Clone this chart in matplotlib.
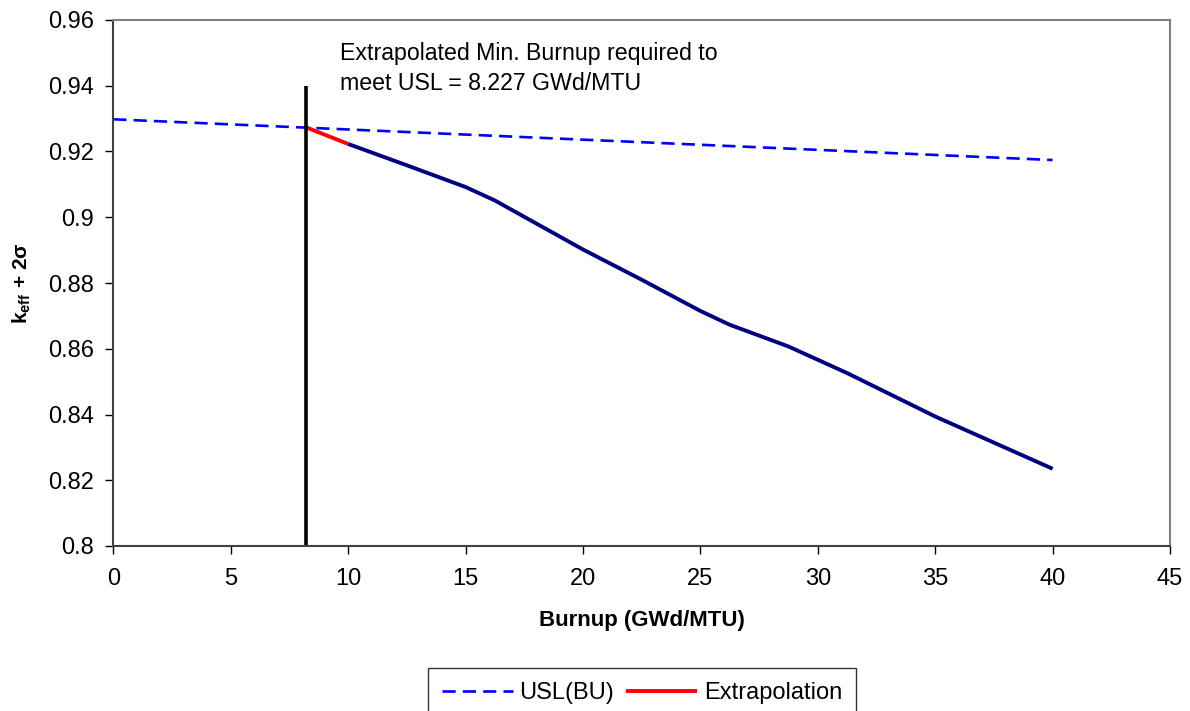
import matplotlib
matplotlib.use("Agg")
import matplotlib.pyplot as plt

plt.rcParams['font.family'] = ['Liberation Sans', 'DejaVu Sans']
plt.rcParams['mathtext.fontset'] = 'custom'
plt.rcParams['mathtext.rm'] = 'Liberation Sans'
plt.rcParams['mathtext.bf'] = 'Liberation Sans:bold'
plt.rcParams['mathtext.it'] = 'Liberation Sans:italic'

# ---- data ----
usl_bu = [0, 40]
usl_k = [0.9298, 0.9174]

keff_bu = [10, 12.5, 15, 16.25, 20, 22.5, 25, 26.25, 28.75, 31.25, 35, 40]
keff_k = [0.9223, 0.9158, 0.9092, 0.9051, 0.8902, 0.8810, 0.8715, 0.8673,
          0.8607, 0.8526, 0.8394, 0.8235]

extrap_bu = [8.227, 10]
extrap_k = [0.9273, 0.9223]

min_bu = 8.227
vline_k = [0.80, 0.94]

xticks = [0, 5, 10, 15, 20, 25, 30, 35, 40, 45]
yticks = [0.80, 0.82, 0.84, 0.86, 0.88, 0.90, 0.92, 0.94, 0.96]
ytick_labels = ['0.8', '0.82', '0.84', '0.86', '0.88', '0.9', '0.92', '0.94', '0.96']

annot = "Extrapolated Min. Burnup required to\nmeet USL = 8.227 GWd/MTU"

# ---- figure ----
fig = plt.figure(figsize=(11.9, 7.11), dpi=100)
ax = fig.add_axes([113.3/1190, 1-546/711, (1170-113.3)/1190, (546-20)/711])

ax.plot(usl_bu, usl_k, color='#0000FF', lw=1.9, dashes=(5.0, 2.7), label='USL(BU)')
ax.plot(keff_bu, keff_k, color='#000080', lw=2.8, solid_capstyle='butt')
ax.plot(extrap_bu, extrap_k, color='#FF0000', lw=2.8, label='Extrapolation', solid_capstyle='butt')
ax.plot([min_bu, min_bu], vline_k, color='black', lw=2.6, solid_capstyle='butt')

ax.set_xlim(0, 45)
ax.set_ylim(0.8, 0.96)
ax.set_xticks(xticks)
ax.set_xticklabels([str(t) for t in xticks])
ax.set_yticks(yticks)
ax.set_yticklabels(ytick_labels)

ax.tick_params(axis='both', direction='out', length=6, width=1, color='black',
               labelsize=17, labelcolor='black')
ax.tick_params(axis='y', pad=8)
ax.tick_params(axis='x', pad=10)

for s in ['left', 'bottom']:
    ax.spines[s].set_color('#404040')
    ax.spines[s].set_linewidth(1.5)
for s in ['top', 'right']:
    ax.spines[s].set_color('#808080')
    ax.spines[s].set_linewidth(1.5)

ax.set_xlabel('Burnup (GWd/MTU)', fontsize=16, fontweight='bold')
ax.xaxis.set_label_coords(0.5, -0.121)
ax.set_ylabel(r'$\mathbf{k}_{\mathbf{eff}}$' + ' + 2σ', fontsize=15, fontweight='bold')
ax.yaxis.set_label_coords(-0.076, 0.5)

ax.text(9.64, 0.93872, annot, fontsize=16.7, ha='left', va='baseline', linespacing=1.37)

leg = fig.legend(loc='upper center', bbox_to_anchor=(642/1190, 1-668/711),
                 ncol=2, fontsize=17, frameon=True, fancybox=False, shadow=False,
                 handlelength=3.0, handletextpad=0.3, columnspacing=0.5,
                 borderpad=0.6, borderaxespad=0)
leg.get_frame().set_edgecolor('black')
leg.get_frame().set_linewidth(1.0)

fig.savefig('out.png', dpi=100)
